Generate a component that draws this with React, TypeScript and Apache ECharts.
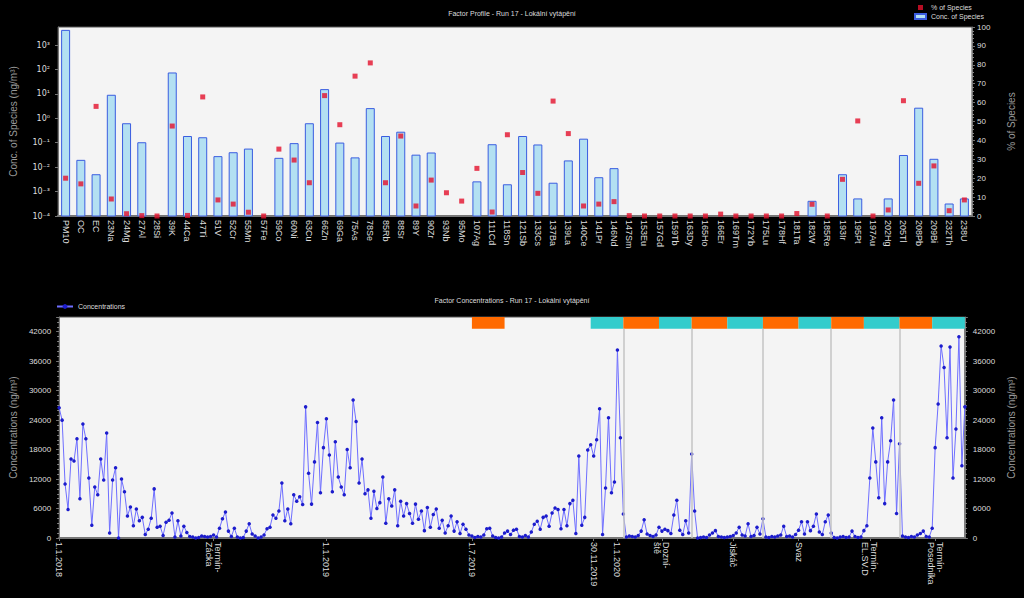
import React, { useEffect, useRef } from "react";
import * as echarts from "echarts";

// ---------- Factor profile (top) ----------
const speciesLabels = [
  "PM10", "OC", "EC", "23Na", "24Mg", "27Al", "28Si", "39K", "44Ca", "47Ti",
  "51V", "52Cr", "55Mn", "57Fe", "59Co", "60Ni", "63Cu", "66Zn", "69Ga", "75As",
  "78Se", "85Rb", "88Sr", "89Y", "90Zr", "93Nb", "95Mo", "107Ag", "111Cd", "118Sn",
  "121Sb", "133Cs", "137Ba", "139La", "140Ce", "141Pr", "146Nd", "147Sm", "153Eu", "157Gd",
  "159Tb", "163Dy", "165Ho", "166Er", "169Tm", "172Yb", "175Lu", "178Hf", "181Ta", "182W",
  "185Re", "193Ir", "195Pt", "197Au", "202Hg", "205Tl", "208Pb", "209Bi", "232Th", "238U",
];

const speciesConc: (number | null)[] = [
  4000, 0.019, 0.0049, 8.8, 0.6, 0.1, null, 72, 0.18, 0.16,
  0.027, 0.039, 0.055, null, 0.023, 0.092, 0.6, 15, 0.097, 0.024,
  2.5, 0.18, 0.27, 0.031, 0.038, null, null, 0.0025, 0.083, 0.0019,
  0.18, 0.081, 0.0022, 0.018, 0.14, 0.0037, 0.0087, null, null, null,
  null, null, null, null, null, null, null, null, null, 0.0004,
  null, 0.0049, 0.0005, null, 0.0005, 0.03, 2.6, 0.021, 0.00031, 0.0005,
];

const speciesPct = [
  20, 17, 58, 9, 1.2, 0.2, 0, 47.6, 0.3, 63,
  8.5, 6.3, 2, 0, 35.4, 29.6, 17.6, 63.7, 48.3, 74,
  81, 17.6, 42.3, 5.3, 19, 12.3, 7.9, 25.2, 2.1, 43,
  23, 12, 60.8, 43.6, 5.3, 6.3, 7.6, 0.2, 0, 0,
  0, 0, 0, 1, 0, 0, 0, 0, 1.3, 6.2,
  0, 19.4, 50.3, 0, 3.2, 61, 17.3, 26.5, 2.8, 8.5,
];

// ---------- Factor concentrations (bottom) ----------
const concValues = [
  26500, 24000, 11000, 5800, 16100, 15700, 20200, 8000, 23200, 20200,
  12200, 2600, 10400, 8800, 16100, 11800, 21400, 1000, 11800, 14300,
  0, 12000, 9400, 4500, 6300, 2500, 5900, 3500, 4200, 700,
  1800, 4000, 10000, 2200, 2400, 500, 3200, 3600, 5100, 200,
  3500, 400, 2400, 1100, 300, 200, 0, 100, 400, 300,
  200, 300, 600, 200, 2000, 3900, 5300, 1400, 300, 2000,
  200, 0, 100, 1400, 2900, 800, 400, 0, 200, 600,
  1900, 2200, 4700, 4000, 5500,
  11200, 3500, 5900, 2900, 8800, 7500, 8400, 6800, 26700, 13200,
  6900, 15500, 23500, 9200, 18400, 24300, 16900, 9400, 19600, 12400,
  10400, 8800, 18000, 14300, 28100, 23700, 11200, 16100, 9000, 9800,
  4000, 9500, 6000, 7200, 12400, 3000, 8000, 6500, 9800, 2500,
  7500, 4500, 7000, 5000, 3000, 6900, 3800, 5500, 1500, 6200,
  2200, 4800, 5900, 2000, 3600, 1000, 2500, 4500, 1400, 3300,
  900, 2800, 1800, 600, 400,
  100, 300, 200, 600, 1900, 2000, 400, 100, 0, 200,
  1000, 1400, 700, 1600, 1800, 300, 200, 500, 200, 1200,
  2800, 3400, 1800, 4200, 4500, 2400, 5100, 6100, 5800, 1900,
  5800, 2500, 7000, 7700, 900, 16700, 2600, 4200, 17900, 19000,
  16700, 20000, 26300, 700, 10200, 24500, 9200, 11400, 38300, 20400,
  4900, 200, 400, 300, 200, 500, 1400, 3700, 800, 500,
  300, 600, 2200, 1400, 1800, 1500, 900, 4700, 7700, 1600,
  700, 3500, 1000, 17100, 5500, 0, 100, 200, 100, 600,
  1000, 1500, 300, 200, 100, 200, 300, 500, 1000, 2200,
  600, 400, 2900, 300, 500, 2200, 800, 3900, 200, 100,
  300, 200, 400, 600, 2400, 300, 400, 200, 700, 1600,
  3300, 800, 3300, 1500, 2400, 4900, 1200, 700, 3300, 4700,
  1000, 100, 0, 200, 300, 100, 200, 1400, 300, 100,
  200, 1500, 2500, 12200, 22400, 15500, 8200, 24500, 7000, 15500,
  19800, 28100, 5000, 19200, 400, 200, 100, 300, 200, 600,
  900, 1400, 300, 200, 2000, 18400, 27300, 39100, 34700, 20400,
  38900, 12200, 22200, 41000, 14700, 26700,
];

const dateTickIndex = [0, 52, 90, 139, 180, 188, 203, 227, 249, 273, 295];
const dateTickText = [
  "1.1.2018", "Termín-\nZácka", "1.1.2019", "1.7.2019", "30.11.2019", "1.1.2020",
  "Dozní-\nště", "Jiskáč", "Svaz", "Termín-\nEL.SV.D", "Termín-\nPosedníka",
];

const bandStart = [139, 179, 190, 202, 213, 225, 237, 249, 260, 271, 283, 294];
const bandEnd = [150, 190, 202, 213, 225, 237, 249, 260, 271, 283, 294, 305];
const bandKind = ["o", "c", "o", "c", "o", "c", "o", "c", "o", "c", "o", "c"];
const dividerIndex = [190, 213, 237, 260, 283];

const SUP: Record<string, string> = {
  "0": "⁰", "1": "¹", "2": "²", "3": "³", "4": "⁴", "5": "⁵",
  "6": "⁶", "7": "⁷", "8": "⁸", "9": "⁹", "-": "⁻",
};
const sup = (n: number) => String(n).split("").map((c) => SUP[c] ?? c).join("");

const LOG_MIN = 0.0001;
const LOG_MAX = 5500;
const Y2_MAX = 45000;
const BAND_LOW = 42600;

export default function App() {
  const ref = useRef<HTMLDivElement>(null);

  useEffect(() => {
    if (!ref.current) return;
    const chart = echarts.init(ref.current, undefined, { renderer: "svg" });
    const sampleIds = concValues.map((_, i) => String(i));
    const barData = speciesConc
      .map((v, i) => (v == null ? null : [i, v]))
      .filter((d) => d !== null);

    const labelColor = "#dddddd";
    const axisGray = "#777777";
    const font = "Liberation Sans";
    const plain = (v: number) => String(v);

    const option: any = {
      animation: false,
      backgroundColor: "#000000",
      textStyle: { fontFamily: font },
      title: [
        {
          text: "Factor Profile - Run 17 - Lokální vytápění",
          left: "center",
          top: 5,
          textStyle: { color: labelColor, fontSize: 7, fontWeight: "normal", fontFamily: font },
        },
        {
          text: "Factor Concentrations - Run 17 - Lokální vytápění",
          left: "center",
          top: 292,
          textStyle: { color: labelColor, fontSize: 7, fontWeight: "normal", fontFamily: font },
        },
      ],
      legend: [
        {
          data: [
            { name: "% of Species", icon: "path://M3,0h5v5h-5z" },
            { name: "Conc. of Species", icon: "rect" },
          ],
          orient: "vertical",
          left: 914,
          top: 4,
          itemWidth: 11,
          itemHeight: 5,
          itemGap: 2,
          padding: 0,
          textStyle: { color: labelColor, fontSize: 7, fontFamily: font },
        },
        {
          data: ["Concentrations"],
          left: 56,
          top: 303,
          itemWidth: 16,
          itemHeight: 6,
          padding: 0,
          textStyle: { color: labelColor, fontSize: 7, fontFamily: font },
        },
      ],
      grid: [
        {
          left: 57, top: 27, width: 916, height: 189,
          show: true, backgroundColor: "#f4f4f4", borderColor: "#555", borderWidth: 1,
        },
        {
          left: 52, top: 317, width: 919, height: 221,
          show: true, backgroundColor: "#f4f4f4", borderColor: "#555", borderWidth: 1,
        },
      ],
      xAxis: [
        {
          gridIndex: 0,
          type: "category",
          data: speciesLabels,
          axisLabel: { rotate: -90, interval: 0, color: labelColor, fontSize: 9, margin: 4, fontFamily: font },
          axisTick: { alignWithLabel: true, length: 3, lineStyle: { color: axisGray } },
          axisLine: { lineStyle: { color: axisGray, width: 2 } },
        },
        {
          gridIndex: 1,
          type: "category",
          boundaryGap: false,
          data: sampleIds,
          axisLabel: {
            rotate: -90,
            color: labelColor,
            fontSize: 9,
            margin: 4,
            fontFamily: font,
            interval: (i: number) => dateTickIndex.includes(i),
            formatter: (v: string) => {
              const k = dateTickIndex.indexOf(Number(v));
              return k >= 0 ? dateTickText[k] : "";
            },
          },
          axisTick: {
            length: 3,
            interval: (i: number) => dateTickIndex.includes(i),
            lineStyle: { color: axisGray },
          },
          axisLine: { lineStyle: { color: axisGray, width: 2 } },
        },
      ],
      yAxis: [
        {
          gridIndex: 0,
          type: "log",
          logBase: 10,
          min: LOG_MIN,
          max: LOG_MAX,
          position: "left",
          name: "Conc. of Species (ng/m³)",
          nameLocation: "middle",
          nameGap: 40,
          nameTextStyle: { color: "#9a9a9a", fontSize: 10, fontFamily: font },
          axisLabel: {
            color: labelColor,
            fontSize: 8,
            fontFamily: "DejaVu Sans",
            showMaxLabel: false,
            formatter: (v: number) => "10" + sup(Math.round(Math.log10(v))),
          },
          splitLine: { show: false },
          axisLine: { show: true, lineStyle: { color: axisGray } },
          axisTick: { show: true, length: 3, lineStyle: { color: axisGray } },
        },
        {
          gridIndex: 0,
          type: "value",
          min: 0,
          max: 100,
          interval: 10,
          position: "right",
          name: "% of Species",
          nameLocation: "middle",
          nameGap: 34,
          nameTextStyle: { color: "#9a9a9a", fontSize: 10, fontFamily: font },
          axisLabel: { color: labelColor, fontSize: 8, margin: 5, fontFamily: font },
          splitLine: { show: false },
          axisLine: { show: true, lineStyle: { color: axisGray } },
          axisTick: { show: true, length: 3, lineStyle: { color: axisGray } },
          minorTick: { show: true, splitNumber: 5, length: 2, lineStyle: { color: "#888" } },
        },
        {
          gridIndex: 1,
          type: "value",
          min: 0,
          max: Y2_MAX,
          interval: 6000,
          position: "left",
          name: "Concentrations (ng/m³)",
          nameLocation: "middle",
          nameGap: 36,
          nameTextStyle: { color: "#9a9a9a", fontSize: 10, fontFamily: font },
          axisLabel: { color: labelColor, fontSize: 8, showMaxLabel: false, fontFamily: font, formatter: plain },
          splitLine: { show: false },
          axisLine: { show: true, lineStyle: { color: axisGray } },
          axisTick: { show: true, length: 3, lineStyle: { color: axisGray } },
          minorTick: { show: true, splitNumber: 6, length: 2, lineStyle: { color: "#888" } },
        },
        {
          gridIndex: 1,
          type: "value",
          min: 0,
          max: Y2_MAX,
          interval: 6000,
          position: "right",
          name: "Concentrations (ng/m³)",
          nameLocation: "middle",
          nameGap: 36,
          nameTextStyle: { color: "#9a9a9a", fontSize: 10, fontFamily: font },
          axisLabel: { color: labelColor, fontSize: 8, showMaxLabel: false, fontFamily: font, formatter: plain },
          splitLine: { show: false },
          axisLine: { show: true, lineStyle: { color: axisGray } },
          axisTick: { show: true, length: 3, lineStyle: { color: axisGray } },
          minorTick: { show: true, splitNumber: 6, length: 2, lineStyle: { color: "#888" } },
        },
      ],
      series: [
        {
          type: "custom",
          name: "Conc. of Species",
          xAxisIndex: 0,
          yAxisIndex: 0,
          data: barData,
          encode: { x: 0, y: 1 },
          itemStyle: { color: "#b3e0f2", borderColor: "#3a5de0", borderWidth: 1 },
          z: 2,
          renderItem: (params: any, api: any) => {
            const idx = api.value(0);
            const v = api.value(1);
            const top = api.coord([idx, v]);
            const bottom = api.coord([idx, LOG_MIN]);
            const w = 8;
            return {
              type: "rect",
              shape: { x: top[0] - w / 2, y: top[1], width: w, height: bottom[1] - top[1] },
              style: { fill: "#b3e0f2", stroke: "#3a5de0", lineWidth: 1 },
            };
          },
        },
        {
          type: "scatter",
          name: "% of Species",
          xAxisIndex: 0,
          yAxisIndex: 1,
          data: speciesPct,
          symbol: "rect",
          symbolSize: 5,
          itemStyle: { color: "#e3102c" },
          z: 3,
        },
        {
          type: "line",
          name: "Concentrations",
          xAxisIndex: 1,
          yAxisIndex: 2,
          data: concValues,
          symbol: "circle",
          symbolSize: 3.5,
          showAllSymbol: true,
          lineStyle: { color: "#6e6eff", width: 1 },
          itemStyle: { color: "#1c1ccc" },
          z: 3,
          markLine: {
            silent: true,
            symbol: ["none", "none"],
            label: { show: false },
            lineStyle: { color: "#c4c4c4", width: 1.5, type: "solid" },
            data: dividerIndex.map((i) => [
              { coord: [String(i), 0] },
              { coord: [String(i), BAND_LOW] },
            ]),
          },
          markArea: {
            silent: true,
            itemStyle: { opacity: 1 },
            data: bandStart.map((s, k) => [
              {
                xAxis: String(s),
                yAxis: BAND_LOW,
                itemStyle: { color: bandKind[k] === "o" ? "#ff6a00" : "#33cccc", opacity: 1 },
              },
              { xAxis: String(bandEnd[k]), yAxis: Y2_MAX },
            ]),
          },
        },
      ],
    };

    chart.setOption(option);
    return () => chart.dispose();
  }, []);

  return (
    <div
      ref={ref}
      style={{ position: "fixed", left: 0, top: 0, width: 1024, height: 598, background: "#000" }}
    />
  );
}
